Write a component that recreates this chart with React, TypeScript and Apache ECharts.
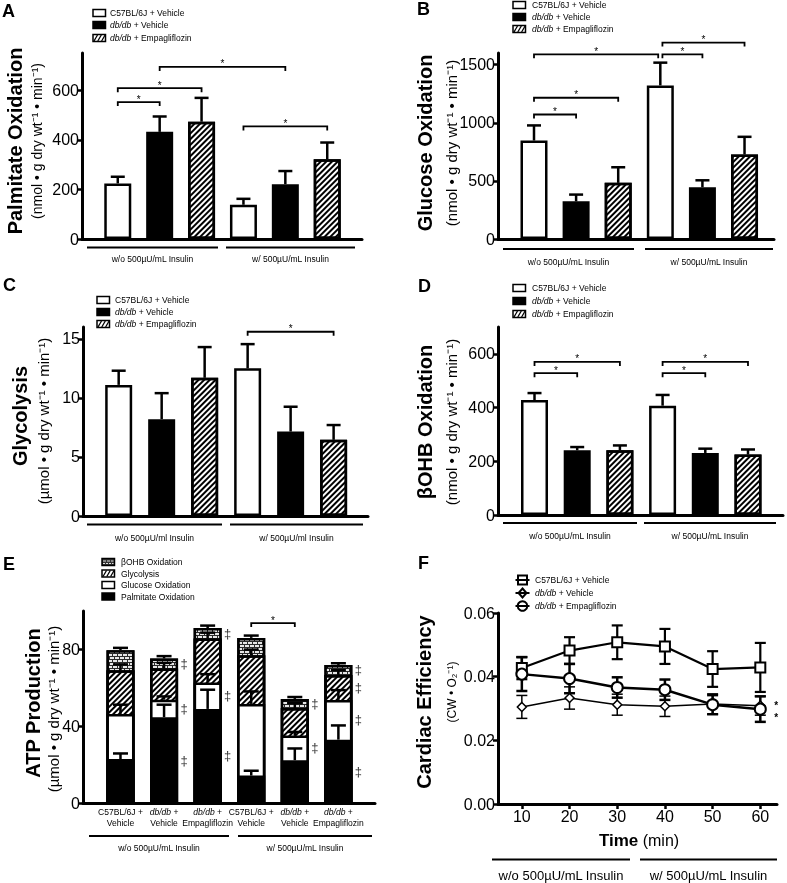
import React, { useEffect, useRef } from 'react';
import * as echarts from 'echarts';

const FONT = '"Liberation Sans", Arial, Helvetica, sans-serif';

// ---------------- data ----------------
const barSlots = [1, 2, 3, 4, 5, 6];
const legendGroups = ['C57BL/6J + Vehicle', '{i|db/db} + Vehicle', '{i|db/db} + Empagliflozin'];
const insulinLabelsL = ['w/o 500µU/mL Insulin', 'w/ 500µU/mL Insulin'];
const insulinLabelsl = ['w/o 500µU/ml Insulin', 'w/ 500µU/ml Insulin'];

// order: w/o insulin (C57, db, db+EMPA), w/ insulin (C57, db, db+EMPA)
const palmitateMean = [224, 432, 473, 138, 221, 322];
const palmitateSem = [27, 62, 96, 24, 53, 67];
const glucoseMean = [847, 324, 483, 1321, 445, 727];
const glucoseSem = [130, 58, 134, 196, 60, 152];
const glycolysisMean = [11.1, 8.2, 11.7, 12.5, 7.15, 6.45];
const glycolysisSem = [1.2, 2.2, 2.6, 2.05, 2.1, 1.25];
const bohbMean = [428, 241, 241, 407, 231, 225];
const bohbSem = [26, 12, 18, 40, 16, 19];

// significance brackets: [fromSlot, toSlot, height]
const palmitateSig = [[1, 2, 552], [1, 3, 608], [2, 5, 694], [4, 6, 454]];
const glucoseSig = [[1, 2, 1071], [1, 3, 1215], [1, 3.95, 1589], [4.05, 5, 1589], [4.05, 6, 1690]];
const glycolysisSig = [[4, 6, 15.6]];
const bohbSig = [[1, 2, 528], [1, 3, 570], [4, 5, 528], [4, 6, 570]];

// ATP production (segments)
const atpLegend = ['βOHB Oxidation', 'Glycolysis', 'Glucose Oxidation', 'Palmitate Oxidation'];
const atpCategories = ['C57BL/6J +\nVehicle', '{i|db/db} +\nVehicle', '{i|db/db} +\nEmpagliflozin', 'C57BL/6J +\nVehicle', '{i|db/db} +\nVehicle', '{i|db/db} +\nEmpagliflozin'];
const atpPalm = [22.9, 44.7, 49.0, 14.3, 22.3, 33.0];
const atpGluc = [23.5, 9.1, 13.8, 37.3, 12.9, 20.7];
const atpGlyc = [22.7, 16.2, 22.9, 25.3, 14.3, 13.0];
const atpBohb = [10.5, 5.3, 5.4, 9.1, 4.7, 5.2];
const atpPalmSem = [2.9, 6.5, 10.0, 2.5, 6.1, 7.4];
const atpGlucSem = [4.8, 1.7, 4.3, 6.5, 1.8, 5.1];
const atpGlycSem = [3.1, 3.0, 3.0, 3.0, 2.5, 2.5];
const atpBohbSem = [1.2, 1.2, 1.3, 1.2, 1.0, 0.9];
// ‡ flags per bar: [palm, gluc, glyc, bohb]
const atpDagger = [[0, 0, 0, 0], [1, 1, 0, 1], [1, 1, 0, 1], [0, 0, 0, 0], [0, 1, 0, 1], [1, 1, 1, 1]];
const atpSig = [[4, 5, 93.7]];

// cardiac efficiency
const times = [10, 20, 30, 40, 50, 60];
const effC57 = [0.0427, 0.0482, 0.0508, 0.0495, 0.0424, 0.0429];
const effC57Sem = [0.0035, 0.0042, 0.0053, 0.0055, 0.0056, 0.0077];
const effDb = [0.0305, 0.0333, 0.0312, 0.0307, 0.0314, 0.0309];
const effDbSem = [0.0036, 0.0035, 0.0033, 0.0032, 0.0032, 0.003];
const effEmpa = [0.0408, 0.0394, 0.0366, 0.0359, 0.0312, 0.0298];
const effEmpaSem = [0.0053, 0.0046, 0.0032, 0.0032, 0.003, 0.004];
const effLegend = ['C57BL/6J + Vehicle', '{i|db/db} + Vehicle', '{i|db/db} + Empagliflozin'];

// tick values
const palmTicks = [0, 200, 400, 600];
const glucTicks = [0, 500, 1000, 1500];
const glycTicks = [0, 5, 10, 15];
const bohbTicks = [0, 200, 400, 600];
const atpTicks = [0, 40, 80];
const effTicks = [0, 0.02, 0.04, 0.06];
const timeTicks = [10, 20, 30, 40, 50, 60];

// ---------------- styles ----------------
const HATCH_DECAL = { symbol: 'rect', symbolSize: 1, dashArrayX: [1, 0], dashArrayY: [1.6, 1.6], rotation: -Math.PI / 4, color: '#000' };
const BRICK_DECAL = { symbol: 'rect', symbolSize: 1, dashArrayX: [[3.5, 1], [1.5, 1, 2, 0]], dashArrayY: [2, 1], rotation: 0, color: '#e6e6e6' };
const WHITE = { color: '#fff', borderColor: '#000', borderWidth: 2.5 };
const BLACK = { color: '#000', borderColor: '#000', borderWidth: 2.5 };
const HATCH = { color: '#fff', borderColor: '#000', borderWidth: 2.5, decal: HATCH_DECAL };
const BRICK = { color: '#2a2a2a', borderColor: '#000', borderWidth: 2.5, decal: BRICK_DECAL };

const txt = (extra: any) => ({ fontFamily: FONT, fill: '#000', ...extra });

function errUp(cap: number, lw: number) {
  return (_p: any, api: any) => {
    const x = api.value(0);
    const p0 = api.coord([x, api.value(1)]);
    const p1 = api.coord([x, api.value(2)]);
    return {
      type: 'group',
      children: [
        { type: 'line', shape: { x1: p0[0], y1: p0[1], x2: p1[0], y2: p1[1] }, style: { stroke: '#000', lineWidth: lw } },
        { type: 'line', shape: { x1: p1[0] - cap / 2, y1: p1[1], x2: p1[0] + cap / 2, y2: p1[1] }, style: { stroke: '#000', lineWidth: lw } },
      ],
    };
  };
}

function errBoth(cap: number, lw: number) {
  return (_p: any, api: any) => {
    const x = api.value(0);
    const m = api.value(1);
    const s = api.value(2);
    const lo = api.coord([x, m - s]);
    const hi = api.coord([x, m + s]);
    return {
      type: 'group',
      children: [
        { type: 'line', shape: { x1: lo[0], y1: lo[1], x2: hi[0], y2: hi[1] }, style: { stroke: '#000', lineWidth: lw } },
        { type: 'line', shape: { x1: lo[0] - cap / 2, y1: lo[1], x2: lo[0] + cap / 2, y2: lo[1] }, style: { stroke: '#000', lineWidth: lw } },
        { type: 'line', shape: { x1: hi[0] - cap / 2, y1: hi[1], x2: hi[0] + cap / 2, y2: hi[1] }, style: { stroke: '#000', lineWidth: lw } },
      ],
    };
  };
}

function bracketRender(_p: any, api: any) {
  const a = api.coord([api.value(0), api.value(2)]);
  const b = api.coord([api.value(1), api.value(2)]);
  return {
    type: 'group',
    children: [
      { type: 'polyline', shape: { points: [[a[0], a[1] + 4], [a[0], a[1]], [b[0], b[1]], [b[0], b[1] + 4]] }, style: { stroke: '#000', lineWidth: 1.8, fill: 'none' } },
      { type: 'text', x: (a[0] + b[0]) / 2, y: a[1] - 3, style: txt({ text: '*', fontSize: 10, align: 'center', verticalAlign: 'middle', textAlign: 'center', textVerticalAlign: 'middle' }) },
    ],
  };
}

function buildOption() {
  const grid: any[] = [];
  const xAxis: any[] = [];
  const yAxis: any[] = [];
  const series: any[] = [];
  const el: any[] = [];

  const axisLine = { show: true, onZero: false, lineStyle: { color: '#000', width: 3 } };

  function addGrid(left: number, top: number, width: number, height: number, xmin: number, xmax: number, ymax: number, yticks: number[], yfmt?: (v: number) => string, xExtra?: any) {
    const gi = grid.length;
    grid.push({ left, top, width, height, containLabel: false });
    xAxis.push({
      gridIndex: gi, type: 'value', min: xmin, max: xmax,
      axisLine, axisTick: { show: false }, axisLabel: { show: false }, splitLine: { show: false },
      ...(xExtra || {}),
    });
    yAxis.push({
      gridIndex: gi, type: 'value', min: 0, max: ymax,
      axisLine,
      axisTick: { show: true, length: 5, lineStyle: { color: '#000', width: 2.5 }, customValues: yticks },
      axisLabel: { show: true, margin: 3, color: '#000', fontSize: 16, fontFamily: FONT, customValues: yticks, formatter: yfmt || ((v: number) => String(v)) },
      splitLine: { show: false },
    });
    return gi;
  }

  function barPanel(gi: number, means: number[], sems: number[], sig: number[][]) {
    [WHITE, BLACK, HATCH].forEach((st, g) => {
      series.push({
        type: 'bar', xAxisIndex: gi, yAxisIndex: gi, barWidth: 27, barGap: '-100%', itemStyle: st,
        silent: true, emphasis: { disabled: true },
        data: [0, 3].map((off) => [barSlots[g + off], means[g + off]]),
      });
    });
    series.push({
      type: 'custom', xAxisIndex: gi, yAxisIndex: gi, clip: false, silent: true, z: 3,
      renderItem: errUp(14, 2.5), data: barSlots.map((x, i) => [x, means[i], means[i] + sems[i]]),
    });
    series.push({
      type: 'custom', xAxisIndex: gi, yAxisIndex: gi, clip: false, silent: true, z: 3,
      renderItem: bracketRender, data: sig,
    });
  }

  // A
  const gA = addGrid(82, 53, 280, 186, 0.146, 6.83, 750, palmTicks);
  barPanel(gA, palmitateMean, palmitateSem, palmitateSig);
  // B
  const gB = addGrid(498, 53, 276, 186, 0.145, 6.70, 1600, glucTicks);
  barPanel(gB, glucoseMean, glucoseSem, glucoseSig);
  // C
  const gC = addGrid(83, 327, 285, 189, 0.17, 6.80, 16, glycTicks);
  barPanel(gC, glycolysisMean, glycolysisSem, glycolysisSig);
  // D
  const gD = addGrid(498, 327, 285, 188, 0.145, 6.82, 700, bohbTicks);
  barPanel(gD, bohbMean, bohbSem, bohbSig);

  // E
  const gE = addGrid(83, 611, 292, 192, 0.14, 6.84, 100, atpTicks);
  const cumPalm = atpPalm.slice();
  const cumGluc = cumPalm.map((v, i) => v + atpGluc[i]);
  const cumGlyc = cumGluc.map((v, i) => v + atpGlyc[i]);
  const cumBohb = cumGlyc.map((v, i) => v + atpBohb[i]);
  const layers: [number[], any][] = [[cumBohb, BRICK], [cumGlyc, HATCH], [cumGluc, WHITE], [cumPalm, BLACK]];
  layers.forEach(([arr, st]) => {
    series.push({
      type: 'bar', xAxisIndex: gE, yAxisIndex: gE, barWidth: 28, barGap: '-100%', itemStyle: st,
      silent: true, emphasis: { disabled: true }, data: barSlots.map((x, i) => [x, arr[i]]),
    });
  });
  const segTops = [cumPalm, cumGluc, cumGlyc, cumBohb];
  const segSems = [atpPalmSem, atpGlucSem, atpGlycSem, atpBohbSem];
  const errData: number[][] = [];
  segTops.forEach((tops, s) => barSlots.forEach((x, i) => errData.push([x, tops[i], tops[i] + segSems[s][i]])));
  series.push({ type: 'custom', xAxisIndex: gE, yAxisIndex: gE, clip: false, silent: true, z: 3, renderItem: errUp(15, 2.5), data: errData });
  const segBottoms = [barSlots.map(() => 0), cumPalm, cumGluc, cumGlyc];
  const daggerData: number[][] = [];
  barSlots.forEach((x, i) => atpDagger[i].forEach((f, s) => { if (f) daggerData.push([x, (segBottoms[s][i] + segTops[s][i]) / 2]); }));
  series.push({
    type: 'custom', xAxisIndex: gE, yAxisIndex: gE, clip: false, silent: true, z: 3, data: daggerData,
    renderItem: (_p: any, api: any) => {
      const p = api.coord([api.value(0), api.value(1)]);
      return { type: 'text', x: p[0] + 20, y: p[1], style: txt({ text: '‡', fontSize: 13, fill: '#333', align: 'center', verticalAlign: 'middle', textAlign: 'center', textVerticalAlign: 'middle' }) };
    },
  });
  series.push({ type: 'custom', xAxisIndex: gE, yAxisIndex: gE, clip: false, silent: true, z: 3, renderItem: bracketRender, data: atpSig });
  // category labels under E bars
  series.push({
    type: 'custom', xAxisIndex: gE, yAxisIndex: gE, clip: false, silent: true, z: 3,
    data: barSlots.map((x) => [x, 0]),
    renderItem: (params: any, api: any) => {
      const p = api.coord([api.value(0), api.value(1)]);
      return {
        type: 'text', x: p[0], y: p[1] + 3, scaleX: 0.9,
        style: txt({
          text: atpCategories[params.dataIndex], fontSize: 9.5, lineHeight: 11.5,
          rich: { i: { fontStyle: 'italic', fontSize: 9.5, lineHeight: 11.5, fontFamily: FONT } },
          align: 'center', verticalAlign: 'top', textAlign: 'center', textVerticalAlign: 'top',
        }),
      };
    },
  });

  // F
  const gF = addGrid(498, 613, 279, 191, 5, 63.5, 0.06, effTicks, (v: number) => v.toFixed(2), {
    axisTick: { show: true, length: 5, lineStyle: { color: '#000', width: 2.5 }, customValues: timeTicks },
    axisLabel: { show: true, customValues: timeTicks, margin: 4, color: '#000', fontSize: 16, fontFamily: FONT, formatter: (v: number) => String(v) },
  });
  const effSets: [number[], number[], string, number, number, number][] = [
    [effC57, effC57Sem, 'rect', 10, 2.2, 2],
    [effDb, effDbSem, 'diamond', 9, 1.5, 1.5],
    [effEmpa, effEmpaSem, 'circle', 11, 2.5, 2],
  ];
  effSets.forEach(([m, s, _sym, _size, lw]) => {
    series.push({ type: 'custom', xAxisIndex: gF, yAxisIndex: gF, clip: false, silent: true, z: 3, renderItem: errBoth(11, lw), data: times.map((t, i) => [t, m[i], s[i]]) });
  });
  effSets.forEach(([m, _s, sym, size, lw, bw]) => {
    series.push({
      type: 'line', xAxisIndex: gF, yAxisIndex: gF, silent: true, z: 4, symbol: sym, symbolSize: size,
      lineStyle: { color: '#000', width: lw }, itemStyle: { color: '#fff', borderColor: '#000', borderWidth: bw },
      emphasis: { disabled: true }, data: times.map((t, i) => [t, m[i]]),
    });
  });
  // significance stars for the two db/db groups at 60 min
  series.push({
    type: 'custom', xAxisIndex: gF, yAxisIndex: gF, clip: false, silent: true, z: 5,
    data: [[times[5], effDb[5], effEmpa[5]]],
    renderItem: (_p: any, api: any) => {
      const a = api.coord([api.value(0), api.value(1)]);
      const b = api.coord([api.value(0), api.value(2)]);
      return { type: 'text', x: a[0] + 16, y: (a[1] + b[1]) / 2 + 4, style: txt({ text: '*\n*', fontSize: 10, fontWeight: 'bold', lineHeight: 11.7, align: 'center', verticalAlign: 'middle', textAlign: 'center', textVerticalAlign: 'middle' }) };
    },
  });

  // ---------- graphic: letters ----------
  const letters: [string, number, number][] = [['A', 2, 2], ['B', 417, 0], ['C', 3, 276], ['D', 418, 277], ['E', 3, 555], ['F', 418, 554]];
  letters.forEach(([t, x, y]) => el.push({ type: 'text', x, y, style: txt({ text: t, fontSize: 18, fontWeight: 'bold', align: 'left', verticalAlign: 'top', textAlign: 'left', textVerticalAlign: 'top' }) }));

  // ---------- y titles ----------
  const vt = (x: number, y: number, text: string, fontSize: number, bold: boolean) => ({
    type: 'text', x, y, rotation: Math.PI / 2,
    style: txt({ text, fontSize, fontWeight: bold ? 'bold' : 'normal', align: 'center', verticalAlign: 'middle', textAlign: 'center', textVerticalAlign: 'middle' }),
  });
  const unitN = '(nmol • g dry wt⁻¹ • min⁻¹)';
  const unitU = '(µmol • g dry wt⁻¹ • min⁻¹)';
  el.push(vt(15, 141, 'Palmitate Oxidation', 20, true), vt(37, 141, unitN, 14, false));
  el.push(vt(425, 143, 'Glucose Oxidation', 20, true), vt(451, 143, unitN, 15, false));
  el.push(vt(20, 416, 'Glycolysis', 20, true), vt(43, 421, unitU, 15, false));
  el.push(vt(425, 422, 'βOHB Oxidation', 20, true), vt(451, 422, unitN, 15, false));
  el.push(vt(33, 703, 'ATP Production', 20, true), vt(53, 709, unitU, 15, false));
  el.push(vt(424, 702, 'Cardiac Efficiency', 20, true), vt(452, 692, '(CW • O₂⁻¹)', 12, false));

  // ---------- legends ----------
  const italicRich = { i: { fontStyle: 'italic', fontSize: 8.5, fontFamily: FONT } };
  const legText = (x: number, y: number, text: string) => ({ type: 'text', x, y, style: txt({ text, fontSize: 8.5, rich: italicRich, align: 'left', verticalAlign: 'middle', textAlign: 'left', textVerticalAlign: 'middle' }) });
  const box = (x: number, y: number, kind: string) => {
    const w = 12.5, h = 7;
    const items: any[] = [];
    const fill = kind === 'black' ? '#000' : kind === 'brick' ? '#333' : '#fff';
    items.push({ type: 'rect', shape: { x, y: y - h / 2, width: w, height: h }, style: { fill, stroke: '#000', lineWidth: 1.5 } });
    if (kind === 'hatch') {
      for (let k = 0; k < 3; k++) items.push({ type: 'line', shape: { x1: x + 1 + k * 3.8, y1: y + h / 2 - 0.5, x2: x + 4.5 + k * 3.8, y2: y - h / 2 + 0.5 }, style: { stroke: '#000', lineWidth: 1.3 } });
    }
    if (kind === 'brick') {
      items.push({ type: 'line', shape: { x1: x + 1, y1: y - 1, x2: x + w - 1, y2: y - 1 }, style: { stroke: '#ddd', lineWidth: 1, lineDash: [3, 1] } });
      items.push({ type: 'line', shape: { x1: x + 1, y1: y + 1.5, x2: x + w - 1, y2: y + 1.5 }, style: { stroke: '#ddd', lineWidth: 1, lineDash: [2, 1] } });
    }
    return items;
  };
  const barLegend = (bx: number, tx: number, rows: number[], kinds: string[], labels: string[]) => {
    rows.forEach((ry, i) => { el.push(...box(bx, ry, kinds[i])); el.push(legText(tx, ry, labels[i])); });
  };
  const k3 = ['white', 'black', 'hatch'];
  barLegend(93, 110, [13, 25, 38], k3, legendGroups);
  barLegend(513, 532, [5, 17, 29], k3, legendGroups);
  barLegend(97, 115, [300, 312, 324], k3, legendGroups);
  barLegend(513, 532, [288, 301, 314], k3, legendGroups);
  barLegend(102, 121, [562, 573.5, 585, 596.5], ['brick', 'hatch', 'white', 'black'], atpLegend);

  // F legend
  const fRows = [580, 593, 606];
  const cx = 522.5;
  fRows.forEach((ry, i) => {
    el.push({ type: 'line', shape: { x1: cx - 7, y1: ry, x2: cx + 7, y2: ry }, style: { stroke: '#000', lineWidth: 2 } });
    if (i === 0) el.push({ type: 'rect', shape: { x: cx - 4.5, y: ry - 4.5, width: 9, height: 9 }, style: { fill: 'none', stroke: '#000', lineWidth: 2 } });
    if (i === 1) el.push({ type: 'polygon', shape: { points: [[cx, ry - 4.5], [cx + 4, ry], [cx, ry + 4.5], [cx - 4, ry]] }, style: { fill: 'none', stroke: '#000', lineWidth: 2 } });
    if (i === 2) el.push({ type: 'circle', shape: { cx, cy: ry, r: 4.8 }, style: { fill: 'none', stroke: '#000', lineWidth: 2 } });
    el.push(legText(535, ry, effLegend[i]));
  });

  // ---------- insulin group underlines ----------
  const groups: [number, number[][], number, string[], number][] = [
    [247.5, [[87, 218], [226, 355]], 259, insulinLabelsL, 8.5],
    [249, [[503, 634], [645, 773]], 261.5, insulinLabelsL, 8.5],
    [524.5, [[87, 222], [230, 363]], 537.5, insulinLabelsl, 8.5],
    [523, [[503, 637], [644, 776]], 536, insulinLabelsL, 8.5],
    [836, [[89, 229], [238, 372]], 848, insulinLabelsL, 8.5],
    [859.5, [[492, 630], [640, 777]], 875, insulinLabelsL, 13],
  ];
  groups.forEach(([ly, segs, ty, labels, fs]) => {
    segs.forEach((sg, i) => {
      el.push({ type: 'line', shape: { x1: sg[0], y1: ly, x2: sg[1], y2: ly }, style: { stroke: '#000', lineWidth: 2 } });
      el.push({ type: 'text', x: (sg[0] + sg[1]) / 2, y: ty, style: txt({ text: labels[i], fontSize: fs, align: 'center', verticalAlign: 'middle', textAlign: 'center', textVerticalAlign: 'middle' }) });
    });
  });

  // F x title
  el.push({
    type: 'text', x: 639, y: 840,
    style: txt({ text: '{b|Time} (min)', fontSize: 16, rich: { b: { fontWeight: 'bold', fontSize: 17, fontFamily: FONT } }, align: 'center', verticalAlign: 'middle', textAlign: 'center', textVerticalAlign: 'middle' }),
  });

  return {
    animation: false,
    backgroundColor: '#fff',
    grid, xAxis, yAxis, series,
    graphic: { elements: el },
  };
}

export default function App() {
  const ref = useRef<HTMLDivElement>(null);
  useEffect(() => {
    if (!ref.current) return;
    const chart = echarts.init(ref.current, null, { renderer: 'svg', width: 787, height: 883 });
    chart.setOption(buildOption() as any);
    return () => chart.dispose();
  }, []);
  return <div ref={ref} style={{ position: 'absolute', left: 0, top: 0, width: 787, height: 883, background: '#fff', filter: 'grayscale(1)' }} />;
}
